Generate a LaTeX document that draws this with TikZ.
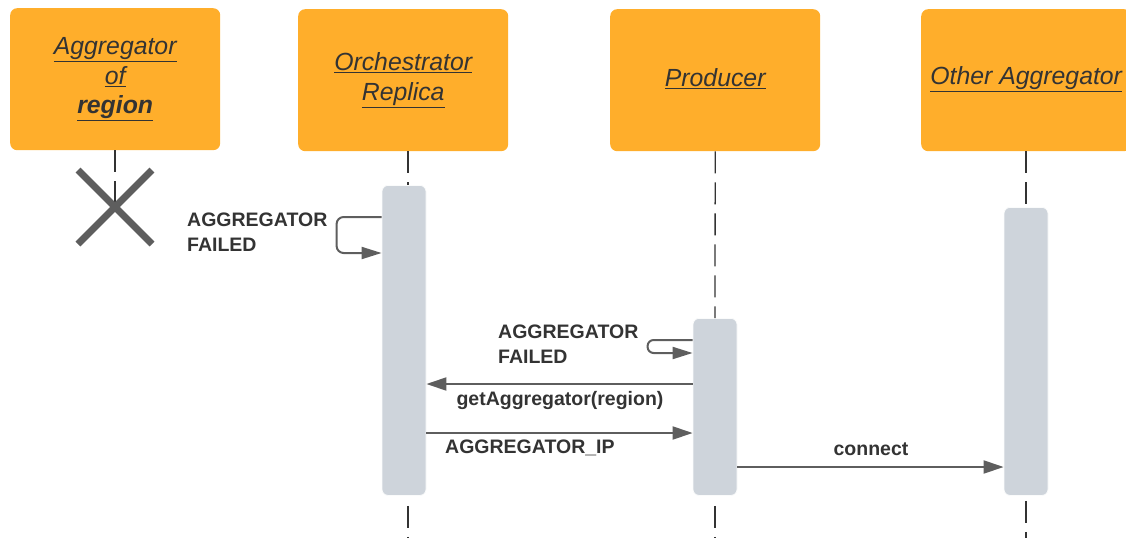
\documentclass[tikz,border=0pt]{standalone}
\usepackage{fontspec}
\setmainfont{Liberation Sans}
\usetikzlibrary{arrows.meta,calc}
\definecolor{headfill}{HTML}{FFAE2B}
\definecolor{barfill}{HTML}{CED4DB}
\definecolor{ink}{HTML}{333333}
\definecolor{wire}{HTML}{5E5E5E}
\tikzset{
  head/.style={rectangle, rounded corners=7pt, fill=headfill, draw=none,
    minimum width=210pt, minimum height=142pt, anchor=north west, inner sep=0pt},
  headtext/.style={text=ink, align=center, font=\itshape\fontsize{24.8}{29.5}\selectfont},
  actbar/.style={rectangle, rounded corners=6pt, fill=barfill, draw=white!90!barfill,
    line width=0.8pt, minimum width=44pt, anchor=north, inner sep=0pt},
  lifeline/.style={draw=ink, line width=1.3pt, dash pattern=on 22pt off 9pt},
  msg/.style={draw=wire, line width=2pt, -{Triangle[length=20pt,width=13pt]}},
  msgsmall/.style={draw=wire, line width=2pt, -{Triangle[length=20pt,width=12pt]}},
  lbl/.style={text=ink, font=\bfseries\fontsize{19.5}{24.5}\selectfont, inner sep=0pt, align=left},
}
\begin{document}
\begin{tikzpicture}[x=1pt,y=-1pt]
\useasboundingbox (0,0) rectangle (1126,538);
\clip (0,0) rectangle (1126,538);

% participant heads
\node[head] (agg) at (10,8) {};
\node[headtext] at (agg.center) {\underline{Aggregator}\\\underline{of}\\\underline{\bfseries region}};
\node[head] (orch) at (298,9) {};
\node[headtext] at (orch.center) {\underline{Orchestrator}\\\underline{Replica}};
\node[head] (prod) at (610,9) {};
\node[headtext] at ([yshift=2pt]prod.center) {\underline{Producer}};
\node[head] (other) at (921,9) {};
\node[headtext] at ([yshift=1pt]other.center) {\underline{Other Aggregator}};

% activation bars
\node[actbar, minimum height=310pt] (orchbar) at (404,185) {};
\node[actbar, minimum height=177pt] (prodbar) at (715,318) {};
\node[actbar, minimum height=288pt] (otherbar) at (1026,207) {};

% lifelines
\coordinate (xmark) at (115,207);
\coordinate (orchend) at (408,538);
\coordinate (prodend) at (715,538);
\coordinate (otherend) at (1026,538);
\draw[lifeline] (agg.south -| xmark) -- (xmark);
\draw[lifeline] (orch.south -| orchend) -- (orchbar.north -| orchend);
\draw[lifeline] ([yshift=-10pt]orchbar.south -| orchend) -- (orchend);
\draw[lifeline] (prod.south) -- (prodbar.north);
\draw[lifeline] ([yshift=-10pt]prodbar.south) -- (prodend);
\draw[lifeline] (other.south -| otherend) -- (otherbar.north);
\draw[lifeline] ([yshift=-5pt]otherbar.south) -- (otherend);

% destroyed participant
\draw[wire, line width=7pt] ($(xmark)+(-37,-37)$) -- ($(xmark)+(37,37)$)
                            ($(xmark)+(-37,37)$) -- ($(xmark)+(37,-37)$);

% orchestrator self message
\coordinate (o1) at ([yshift=-32pt]orchbar.north west);
\coordinate (o2) at ([yshift=-68pt]orchbar.north west);
\draw[msgsmall, rounded corners=7pt] (o1) -- ++(-45,0) -- ++(0,36) -- (o2);
\node[lbl, anchor=north west] (l1) at (187,213) {AGGREGATOR\\FAILED};

% producer self message
\coordinate (p1) at ([yshift=-22pt]prodbar.north west);
\coordinate (p2) at ([yshift=-35pt]prodbar.north west);
\draw[msgsmall, rounded corners=6pt] (p1) -- ++(-45,0) -- ++(0,13) -- (p2);
\node[lbl, anchor=north west] (l2) at (498,325) {AGGREGATOR\\FAILED};

% producer asks orchestrator
\coordinate (p3) at ([yshift=-66pt]prodbar.north west);
\draw[msg] (p3) -- (orchbar.east |- p3);
\node[lbl, anchor=north] (l3) at (560,391) {getAggregator(region)};

% orchestrator answers
\coordinate (o3) at ([yshift=-248pt]orchbar.north east);
\draw[msg] (o3) -- (prodbar.west |- o3);
\node[lbl, anchor=north west] (l4) at (445,440) {AGGREGATOR\_IP};

% producer connects to the other aggregator
\coordinate (p4) at ([yshift=-149pt]prodbar.north east);
\draw[msg] (p4) -- (otherbar.west |- p4);
\node[lbl, anchor=south] (l5) at (871,456) {connect};
\end{tikzpicture}
\end{document}
